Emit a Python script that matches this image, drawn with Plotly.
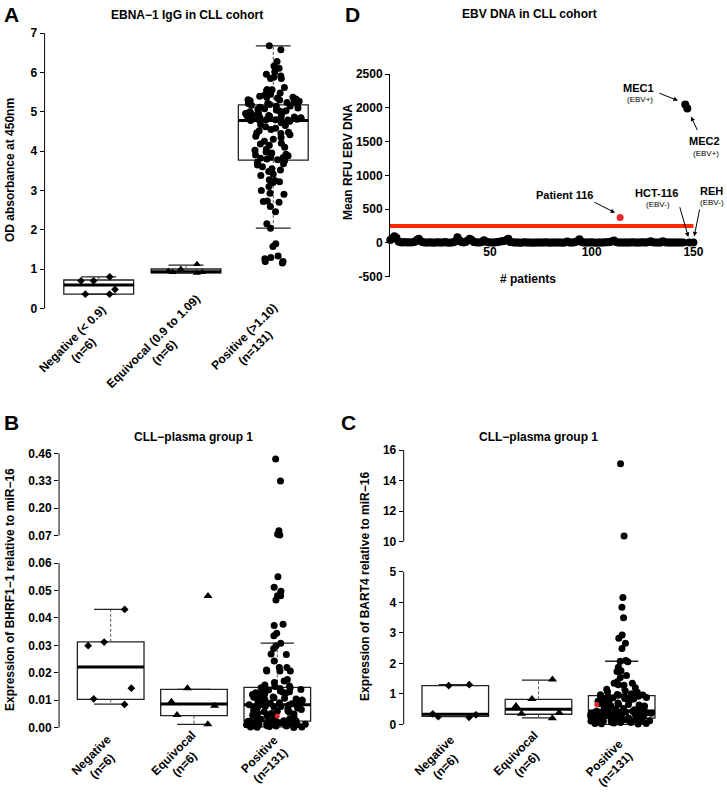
import numpy as np
import plotly.graph_objects as go

W, H = 727, 795
FONT = "Liberation Sans, Arial, Helvetica, sans-serif"

# ---------------- data ----------------
cats_A = ["Negative (< 0.9)<br>(n=6)", "Equivocal (0.9 to 1.09)<br>(n=6)", "Positive (>1.10)<br>(n=131)"]
cats_BC = ["Negative<br>(n=6)", "Equivocal<br>(n=6)", "Positive<br>(n=131)"]

# Panel A: EBNA-1 IgG OD
a_negative = [0.80, 0.70, 0.70, 0.48, 0.36, 0.36]
a_equivocal = [1.12, 1.00, 0.94, 0.92, 0.92, 0.90]
a_positive = [6.68, 6.58, 6.28, 6.17, 6.11, 6.02, 5.96, 5.91, 5.88, 5.85, 5.85, 5.62, 5.57, 5.56, 5.54,
              5.48, 5.45, 5.43, 5.40, 5.37, 5.37, 5.35, 5.33, 5.31, 5.30, 5.28, 5.27, 5.25, 5.24, 5.22,
              5.21, 5.20, 5.19,
              5.17, 5.15, 5.14, 5.12, 5.10, 5.08, 5.07, 5.05, 5.03, 5.02, 5.00, 4.99, 4.97, 4.96, 4.95,
              4.93, 4.92, 4.91, 4.90, 4.89, 4.88, 4.87, 4.86, 4.85, 4.84, 4.83, 4.82, 4.81, 4.80, 4.80,
              4.79, 4.79, 4.78,
              4.76, 4.72, 4.68, 4.65, 4.62, 4.58, 4.55, 4.52, 4.48, 4.46, 4.45, 4.42, 4.38, 4.35, 4.30,
              4.25, 4.20, 4.18, 4.15, 4.10, 4.05, 4.02, 3.98, 3.95, 3.92, 3.90, 3.88, 3.85, 3.84, 3.82,
              3.80, 3.78,
              3.76, 3.72, 3.68, 3.65, 3.60, 3.55, 3.52, 3.48, 3.42, 3.38, 3.27, 3.25, 3.22, 3.20, 3.10,
              3.00, 2.93, 2.90, 2.73, 2.72, 2.70, 2.59, 2.46, 2.15, 2.04, 1.64, 1.57, 1.33, 1.29, 1.19,
              1.19, 1.15, 1.26]
a_q1 = [0.36, 0.90, 3.77]
a_med = [0.59, 0.93, 4.78]
a_q3 = [0.72, 1.00, 5.18]
a_wlo = [0.36, 0.90, 2.04]
a_whi = [0.80, 1.10, 6.68]
a_ticks = [0, 1, 2, 3, 4, 5, 6, 7]

# Panel B: BHRF1-1 relative to miR-16
b_negative = [0.0431, 0.0299, 0.0312, 0.0144, 0.0105, 0.0085]
b_equivocal = [0.0480, 0.0144, 0.0095, 0.0080, 0.0046, 0.0013]
b_positive = [0.433, 0.329, 0.0934, 0.0765, 0.0727, 0.0550, 0.0512, 0.0497, 0.0481, 0.0481, 0.0465,
              0.0377, 0.0372, 0.0344, 0.0335, 0.0308, 0.0299, 0.0289, 0.0269, 0.0267, 0.0243, 0.0210,
              0.0207, 0.0207, 0.0219, 0.0219, 0.0207, 0.0176, 0.0156, 0.0170, 0.0165, 0.0152, 0.0150,
              0.0146, 0.0145, 0.0143, 0.0141, 0.0139, 0.0137, 0.0135, 0.0134, 0.0131, 0.0129, 0.0127,
              0.0126, 0.0123, 0.0121, 0.0119, 0.0117, 0.0115, 0.0112, 0.0111, 0.0109, 0.0107, 0.0105,
              0.0103, 0.0101, 0.0099, 0.0098, 0.0095, 0.0093, 0.0091, 0.0089, 0.0087, 0.0085, 0.0084,
              0.0083, 0.0082, 0.0081, 0.0080, 0.0079, 0.0077, 0.0075, 0.0074, 0.0072, 0.0069, 0.0068,
              0.0066, 0.0064, 0.0061, 0.0060, 0.0058, 0.0056, 0.0053, 0.0052, 0.0050, 0.0047, 0.0046,
              0.0044, 0.0041, 0.0040, 0.0038, 0.0036, 0.0034, 0.0032, 0.0031, 0.0027, 0.0025,
              0.0024, 0.0024, 0.0023, 0.0023, 0.0022, 0.0022, 0.0021, 0.0021, 0.0020, 0.0019, 0.0018,
              0.0018, 0.0017, 0.0016, 0.0015, 0.0015, 0.0014, 0.0013, 0.0012, 0.0011, 0.0011, 0.0010,
              0.0009, 0.0008, 0.0007, 0.0006, 0.0006, 0.0005, 0.0004, 0.0003, 0.0003, 0.0002, 0.0001]
b_patient116 = [0.0043]
b_q1 = [0.0103, 0.0044, 0.0024]
b_med = [0.0221, 0.0086, 0.0084]
b_q3 = [0.0313, 0.0140, 0.0147]
b_wlo = [0.0086, 0.0012, 0.0003]
b_whi = [0.0431, 0.0140, 0.0308]
b_ticks = [0.00, 0.01, 0.02, 0.03, 0.04, 0.05, 0.06, 0.07, 0.20, 0.33, 0.46]
b_tick_text = ["0.00", "0.01", "0.02", "0.03", "0.04", "0.05", "0.06", "0.07", "0.20", "0.33", "0.46"]
b_break_in = [0.0, 0.06, 0.07, 0.46]
b_break_out = [0, 6, 7, 10]
b_segments = [(0.0, 0.06), (0.07, 0.46)]

# Panel C: BART4 relative to miR-16
c_negative = [1.30, 1.27, 0.34, 0.31, 0.25, 0.23]
c_equivocal = [1.47, 0.83, 0.60, 0.38, 0.35, 0.20]
c_positive = [15.1, 10.36, 4.16, 3.84, 3.50, 2.93, 2.82, 2.66, 2.49, 2.09, 2.07, 2.05, 1.87, 1.76, 1.73,
              1.60, 1.54, 1.40, 1.35, 1.35, 1.30, 1.28, 1.20, 1.15, 1.10, 1.06, 1.05, 1.02, 1.00, 0.98,
              0.97, 0.96, 0.95,
              0.93, 0.92, 0.91, 0.90, 0.88, 0.87, 0.86, 0.85, 0.83, 0.82, 0.80, 0.79, 0.77, 0.76, 0.74,
              0.72, 0.71, 0.70, 0.68, 0.66, 0.65, 0.63, 0.61, 0.60, 0.58, 0.57, 0.55, 0.53, 0.52, 0.50,
              0.48, 0.46, 0.44,
              0.43, 0.43, 0.42, 0.42, 0.41, 0.40, 0.40, 0.39, 0.38, 0.37, 0.37, 0.36, 0.35, 0.34, 0.34,
              0.33, 0.32, 0.31, 0.31, 0.30, 0.29, 0.28, 0.28, 0.27, 0.26, 0.25, 0.25, 0.24, 0.23, 0.22,
              0.22, 0.21,
              0.20, 0.19, 0.19, 0.19, 0.18, 0.18, 0.18, 0.17, 0.17, 0.16, 0.16, 0.15, 0.15, 0.14, 0.14,
              0.13, 0.12, 0.12, 0.11, 0.11, 0.10, 0.09, 0.09, 0.08, 0.07, 0.06, 0.06, 0.05, 0.04, 0.03,
              0.03, 0.02, 0.01]
c_patient116 = [0.65]
c_q1 = [0.26, 0.33, 0.20]
c_med = [0.33, 0.49, 0.44]
c_q3 = [1.27, 0.82, 0.94]
c_wlo = [0.25, 0.21, 0.00]
c_whi = [1.30, 1.45, 2.07]
c_ticks = [0, 1, 2, 3, 4, 5, 10, 12, 14, 16]
c_break_in = [0, 5, 10, 16]
c_break_out = [0, 5, 6, 9]
c_segments = [(0, 5), (10, 16)]

# Panel D: EBV DNA (mean RFU) per patient
d_patients = list(range(1, 146))
d_rfu = [45, 65, 100, 75, 20, 10, 8, 12, 5, 9,
         6, 10, 15, 45, 60, 25, 10, 8, 5, 7,
         9, 4, 6, 10, 8, 5, 7, 12, 6, 4,
         8, 10, 20, 85, 40, 12, 8, 15, 35, 60,
         45, 15, 10, 8, 6, 12, 40, 20, 10, 5,
         8, 6, 10, 15, 20, 25, 30, 45, 60, 15,
         10, 6, 8, 5, 4, 7, 9, 5, 6, 8,
         4, 6, 5, 8, 7, 5, 6, 9, 4, 6,
         5, 7, 8, 6, 5, 4, 10, 20, 8, 6,
         5, 12, 30, 55, 15, 8, 6, 5, 7, 9,
         6, 4, 8, 5, 7, 6, 9, 10, 15, 25,
         35, 12, 8, 6, 5, 7, 6, 8, 5, 9,
         6, 5, 8, 7, 10, 6, 5, 12, 25, 10,
         8, 6, 5, 7, 25, 10, 6, 5, 8, 6,
         5, 7, 6, 8, 5]
d_threshold = 250
d_threshold_x = [0, 150]
d_p116 = (114, 378)
d_ctrl_names = ["MEC1", "MEC2", "HCT-116", "REH"]
d_ctrl_x = [146, 147, 148, 150]
d_ctrl_y = [2050, 1990, 5, 5]
d_yticks = [-500, 0, 500, 1000, 1500, 2000, 2500]
d_xticks = [50, 100, 150]


def tb(v):
    return np.interp(v, b_break_in, b_break_out)


def tc(v):
    return np.interp(v, c_break_in, c_break_out)


def ident(v):
    return np.asarray(v, dtype=float)


def PX(x):
    return x / W


def PY(y):
    return 1 - y / H


fig = go.Figure()
shapes = []
annotations = []

BOLD = dict(family=FONT, size=12, color="black", weight="bold")


def add_group(vals, xcat, xa, ya, symbol, size, jitter):
    fig.add_trace(go.Box(
        x=[xcat] * len(vals), y=list(vals), boxpoints="all", jitter=jitter, pointpos=0,
        width=0.8, fillcolor="rgba(0,0,0,0)", line=dict(width=0, color="rgba(0,0,0,0)"),
        marker=dict(symbol=symbol, size=size, color="black", line=dict(width=0)),
        xaxis=xa, yaxis=ya, showlegend=False, hoverinfo="y"))


def add_boxes(xr, yr, f, q1, med, q3, wlo, whi):
    for i in range(3):
        c = i + 1
        shapes.append(dict(type="rect", xref=xr, yref=yr, x0=c - 0.4, x1=c + 0.4,
                           y0=float(f(q1[i])), y1=float(f(q3[i])), layer="below",
                           line=dict(color="#222", width=1.3), fillcolor="white"))
        shapes.append(dict(type="line", xref=xr, yref=yr, x0=c - 0.4, x1=c + 0.4,
                           y0=float(f(med[i])), y1=float(f(med[i])), layer="below",
                           line=dict(color="black", width=3)))
        for a, b in ((q3[i], whi[i]), (q1[i], wlo[i])):
            if abs(a - b) > 1e-9:
                shapes.append(dict(type="line", xref=xr, yref=yr, x0=c, x1=c,
                                   y0=float(f(a)), y1=float(f(b)), layer="below",
                                   line=dict(color="#555", width=1, dash="3px,2px")))
            shapes.append(dict(type="line", xref=xr, yref=yr, x0=c - 0.2, x1=c + 0.2,
                               y0=float(f(b)), y1=float(f(b)), layer="below",
                               line=dict(color="#222", width=1.3)))


def add_axis_segments(xr, yr, f, segs):
    for lo, hi in segs:
        shapes.append(dict(type="line", xref=xr + " domain", yref=yr, x0=0, x1=0,
                           y0=float(f(lo)), y1=float(f(hi)), line=dict(color="black", width=1)))


def add_cat_labels(xr, labels, yc_px, xshifts):
    for i, lab in enumerate(labels):
        annotations.append(dict(text=lab, x=i + 1, xref=xr, y=PY(yc_px[i]), yref="paper",
                                xshift=xshifts[i], showarrow=False, textangle=-45, align="center",
                                xanchor="center", yanchor="middle", font=BOLD))


# ----- Panel A -----
add_boxes("x", "y", ident, a_q1, a_med, a_q3, a_wlo, a_whi)
add_group(a_negative, 1, "x", "y", "diamond", 6, 0.6)
add_group(a_equivocal, 2, "x", "y", "triangle-up", 7, 0.6)
add_group(a_positive, 3, "x", "y", "circle", 7, 0.8)
add_axis_segments("x", "y", ident, [(0, 7)])
add_cat_labels("x", cats_A, [345, 347, 342], [-21, -27, -23])

# ----- Panel B -----
add_boxes("x2", "y2", tb, b_q1, b_med, b_q3, b_wlo, b_whi)
add_group(tb(b_negative), 1, "x2", "y2", "diamond", 6, 0.8)
add_group(tb(b_equivocal), 2, "x2", "y2", "triangle-up", 8, 0.8)
add_group(tb(b_positive), 3, "x2", "y2", "circle", 7, 0.95)
fig.add_trace(go.Scatter(x=[3] * len(b_patient116), y=tb(b_patient116), mode="markers",
                         marker=dict(color="#e8262b", size=5), xaxis="x2", yaxis="y2", showlegend=False))
add_axis_segments("x2", "y2", tb, b_segments)
add_cat_labels("x2", cats_BC, [761, 759, 760], [-14, -15, -12])

# ----- Panel C -----
add_boxes("x3", "y3", tc, c_q1, c_med, c_q3, c_wlo, c_whi)
add_group(tc(c_negative), 1, "x3", "y3", "diamond", 6, 0.8)
add_group(tc(c_equivocal), 2, "x3", "y3", "triangle-up", 8, 0.8)
add_group(tc(c_positive), 3, "x3", "y3", "circle", 7, 0.95)
fig.add_trace(go.Scatter(x=[3 - 0.3] * len(c_patient116), y=tc(c_patient116), mode="markers",
                         marker=dict(color="#e8262b", size=5), xaxis="x3", yaxis="y3", showlegend=False))
add_axis_segments("x3", "y3", tc, c_segments)
add_cat_labels("x3", cats_BC, [761, 759, 764], [-15, -17, -12])

# ----- Panel D -----
fig.add_trace(go.Scatter(x=d_threshold_x, y=[d_threshold] * 2, mode="lines",
                         line=dict(color="#ff2a00", width=4), xaxis="x4", yaxis="y4", showlegend=False))
fig.add_trace(go.Scatter(x=d_patients, y=d_rfu, mode="markers", marker=dict(color="black", size=8),
                         xaxis="x4", yaxis="y4", showlegend=False, cliponaxis=False))
fig.add_trace(go.Scatter(x=d_ctrl_x, y=d_ctrl_y, mode="markers", marker=dict(color="black", size=8),
                         xaxis="x4", yaxis="y4", showlegend=False, cliponaxis=False))
fig.add_trace(go.Scatter(x=[d_p116[0]], y=[d_p116[1]], mode="markers", marker=dict(color="#e8262b", size=7),
                         xaxis="x4", yaxis="y4", showlegend=False))

# ---------------- axes ----------------
def cat_x(domain_px, anchor):
    return dict(domain=[PX(domain_px[0]), PX(domain_px[1])], range=[0.38, 3.62], showgrid=False,
                zeroline=False, showline=False, ticks="", showticklabels=False, automargin=False,
                anchor=anchor)


def val_y(domain_px, rng, tickvals, ticktext, anchor):
    return dict(domain=[PY(domain_px[0]), PY(domain_px[1])], range=rng, showgrid=False, zeroline=False,
                showline=False, ticks="outside", ticklen=4, tickwidth=1, tickcolor="black",
                tickvals=list(tickvals), ticktext=ticktext, tickfont=BOLD, anchor=anchor, automargin=False)


xa = cat_x((44.6, 327.4), "y")
ya = val_y((312, 30), [(308.3 - 312) / 39.29, (308.3 - 30) / 39.29], a_ticks, [str(t) for t in a_ticks], "x")
xb = cat_x((59.05, 328.95), "y2")
yb = val_y((735, 445), [(727.7 - 735) / 27.44, (727.7 - 445) / 27.44], tb(b_ticks), b_tick_text, "x2")
xc = cat_x((403.7, 673.3), "y3")
yc = val_y((732, 445), [(724.3 - 732) / 30.47, (724.3 - 445) / 30.47], tc(c_ticks),
           [str(t) for t in c_ticks], "x3")
xd = dict(domain=[PX(390), PX(700)], range=[(390 - 388.3) / 2.034, (700 - 388.3) / 2.034], showgrid=False,
          zeroline=False, showline=False, ticks="", tickvals=d_xticks, ticktext=[str(t) for t in d_xticks],
          tickfont=BOLD, anchor="free", position=PY(243.3), automargin=False)
yd = dict(domain=[PY(276.7), PY(74)], range=[-500, 2500], showgrid=False, zeroline=False, showline=True,
          linecolor="black", linewidth=1, ticks="outside", ticklen=4, tickwidth=1, tickcolor="black",
          tickvals=d_yticks, ticktext=[str(t) for t in d_yticks], tickfont=BOLD, anchor="x4",
          automargin=False)

# ---------------- text ----------------
def txt(text, x, y, size=12, bold=True, angle=0, xanchor="center", yanchor="middle", color="black"):
    annotations.append(dict(text=text, x=PX(x), y=PY(y), xref="paper", yref="paper", showarrow=False,
                            textangle=angle, xanchor=xanchor, yanchor=yanchor,
                            font=dict(family=FONT, size=size, color=color, weight="bold" if bold else "normal")))


txt("A", 11, 15, size=21)
txt("D", 352, 15, size=21)
txt("B", 11, 422, size=21)
txt("C", 348, 422, size=21)

txt("EBNA\u22121 IgG in CLL cohort", 187, 15)
txt("EBV DNA in CLL cohort", 529, 14)
txt("CLL\u2212plasma group 1", 193, 437)
txt("CLL\u2212plasma group 1", 538, 437)

txt("OD absorbance at 450nm", 10, 170, angle=-90)
txt("Expression of BHRF1\u22121 relative to miR\u221216", 10, 590, angle=-90)
txt("Expression of BART4 relative to miR\u221216", 365, 587, angle=-90)
txt("Mean RFU EBV DNA", 348, 162, angle=-90)
txt("# patients", 528, 279)

txt("MEC1", 638, 88, size=11)
txt("(EBV+)", 640, 99.5, size=8, bold=False)
txt("MEC2", 704, 141.5, size=11)
txt("(EBV+)", 706, 154, size=8, bold=False)
txt("Patient 116", 564, 195, size=11)
txt("HCT-116", 656, 193, size=11)
txt("(EBV-)", 658, 205, size=8, bold=False)
txt("REH", 711, 191, size=11)
txt("(EBV-)", 712, 202.5, size=8, bold=False)


def arrow(hx, hy, tx, ty):
    annotations.append(dict(x=hx, y=hy, xref="x4", yref="y4", ax=tx, ay=ty, axref="x4", ayref="y4",
                            text="", showarrow=True, arrowhead=2, arrowsize=0.9, arrowwidth=1,
                            arrowcolor="black"))


arrow(142.4, 2106, 132.6, 2224)
arrow(148.8, 1870, 152.3, 1648)
arrow(111.5, 447, 100.6, 614)
arrow(147.5, 89, 143.1, 551)
arrow(150.4, 97, 153.2, 517)

fig.update_layout(
    width=W, height=H, margin=dict(l=0, r=0, t=0, b=0, autoexpand=False), paper_bgcolor="white",
    plot_bgcolor="white",
    showlegend=False, boxmode="overlay", font=dict(family=FONT, size=12, color="black"),
    xaxis=xa, yaxis=ya, xaxis2=xb, yaxis2=yb, xaxis3=xc, yaxis3=yc, xaxis4=xd, yaxis4=yd,
    shapes=shapes, annotations=annotations,
)

fig.write_html("out.html", config={"displayModeBar": False},
               post_script="document.body.style.margin='0px';")
